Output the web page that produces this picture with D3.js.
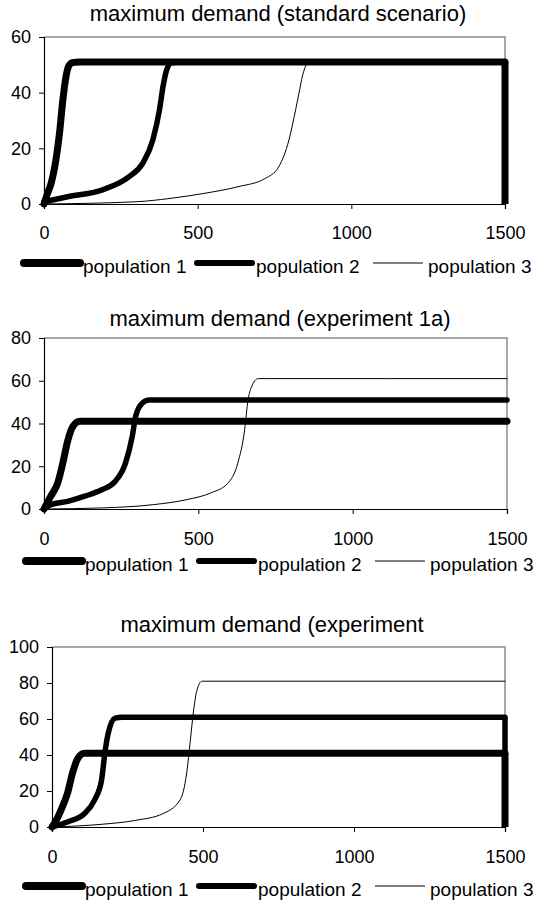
<!DOCTYPE html>
<html>
<head>
<meta charset="utf-8">
<script src="https://cdn.jsdelivr.net/npm/d3@7"></script>
<style>
body { margin: 0; background: #fff; }
svg text { font-family: "Liberation Sans", Arial, sans-serif; fill: #000; }
</style>
</head>
<body>
<svg id="chart" width="534" height="903"></svg>
<script>
// tick labels
var xTicks = [0, 500, 1000, 1500];
var yTicksStd = [0, 20, 40, 60];
var yTicks1a = [0, 20, 40, 60, 80];
var yTicks1b = [0, 20, 40, 60, 80, 100];

var seriesNames = ["population 1", "population 2", "population 3"];
var titles = ["maximum demand (standard scenario)", "maximum demand (experiment 1a)", "maximum demand (experiment"];

// standard scenario, [time, demand]
var stdPop1 = [[0, 0], [12, 4], [22, 7], [39, 16], [50, 25], [61, 37], [72, 46], [80, 49.5], [92, 50.8], [115, 51], [1500, 51]];
var stdPop2 = [[0, 0.8], [77, 2.6], [188, 5], [277, 9.8], [321, 14.6], [354, 23], [376, 34], [387, 42], [400, 48.5], [415, 50.7], [440, 51], [1500, 51]];
var stdPop3 = [[0, 0], [299, 0.8], [410, 2], [520, 3.8], [631, 6.2], [720, 9.2], [764, 13.4], [797, 23], [819, 34], [830, 40], [841, 46], [858, 50.5], [880, 51], [1500, 51]];

// experiment 1a
var exaPop1 = [[0, 0], [22, 6], [44, 12], [61, 21.5], [77, 32], [94, 38.7], [116, 41], [140, 41], [1500, 41]];
var exaPop2 = [[0, 0], [22, 2], [77, 3.6], [132, 6], [187, 9], [231, 13], [264, 21.5], [286, 34], [297, 43.4], [319, 49.6], [341, 51], [1500, 51]];
var exaPop3 = [[0, 0], [187, 0.5], [352, 2], [463, 4.4], [540, 7.5], [595, 12], [628, 21.5], [650, 37], [661, 51], [672, 57], [694, 61], [720, 61], [1500, 61]];

// experiment 1b
var exbPop1 = [[0, 0], [17, 4.7], [34, 11], [51, 18.6], [68, 30], [85, 38], [107, 41], [130, 41], [1500, 41]];
var exbPop2 = [[0, 0], [51, 2.8], [107, 7.4], [141, 15], [164, 26], [175, 41], [186, 52], [209, 60.5], [232, 61], [260, 61], [1500, 61]];
var exbPop3 = [[0, 0], [164, 1.5], [277, 3.7], [367, 7.4], [424, 15], [446, 30], [458, 48], [469, 65], [480, 76], [497, 81], [520, 81], [1500, 81]];

var widths = [7, 5.5, 1];
var legendWidths = [8, 6, 1];

var charts = [
    { title: titles[0], yMax: 60, yTicks: yTicksStd, series: [stdPop1, stdPop2, stdPop3], drop: [true, true, false],
      left: 44, right: 505, top: 37, bottom: 204, titleX: 278, titleY: 21, tickY: 239, legendY: 263, legendDx: 0 },
    { title: titles[1], yMax: 80, yTicks: yTicks1a, series: [exaPop1, exaPop2, exaPop3], drop: [false, false, false],
      left: 44, right: 507, top: 338, bottom: 509, titleX: 280, titleY: 326, tickY: 545, legendY: 561, legendDx: 2 },
    { title: titles[2], yMax: 100, yTicks: yTicks1b, series: [exbPop1, exbPop2, exbPop3], drop: [true, true, false],
      left: 52, right: 505, top: 647, bottom: 827, titleX: 272, titleY: 632, tickY: 863, legendY: 886, legendDx: 2 }
];

var svg = d3.select("#chart");

charts.forEach(function (c) {
    var x = d3.scaleLinear().domain([0, 1500]).range([c.left, c.right]);
    var y = d3.scaleLinear().domain([0, c.yMax]).range([c.bottom, c.top]);
    var g = svg.append("g");

    g.append("text")
        .attr("x", c.titleX)
        .attr("y", c.titleY)
        .attr("text-anchor", "middle")
        .style("font-size", "22px")
        .text(c.title);

    // grey frame top / right
    g.append("path")
        .attr("d", "M" + c.left + "," + c.top + "H" + c.right + "V" + c.bottom)
        .attr("fill", "none")
        .attr("stroke", "#8c8c8c")
        .attr("stroke-width", 1.5);

    var yAxis = g.append("g")
        .attr("transform", "translate(" + c.left + ",0)")
        .call(d3.axisLeft(y).tickValues(c.yTicks).tickSize(5).tickPadding(8).tickFormat(d3.format("d")));
    var xAxis = g.append("g")
        .attr("transform", "translate(0," + c.bottom + ")")
        .call(d3.axisBottom(x).tickValues(xTicks).tickSize(5).tickPadding(14).tickFormat(d3.format("d")));

    [yAxis, xAxis].forEach(function (a) {
        a.select(".domain").attr("stroke", "#000").attr("stroke-width", 1.2);
        a.selectAll("line").attr("stroke", "#000");
        a.selectAll("text")
            .attr("fill", "#000")
            .style("font-size", "18px")
            .style("font-family", "'Liberation Sans', Arial, sans-serif");
    });
    xAxis.selectAll("text").attr("y", c.tickY - c.bottom).attr("dy", null);

    var line = d3.line()
        .x(function (d) { return x(d[0]); })
        .y(function (d) { return y(d[1]); })
        .curve(d3.curveMonotoneX);

    c.series.forEach(function (s, i) {
        g.append("path")
            .attr("d", line(s))
            .attr("fill", "none")
            .attr("stroke", "#000")
            .attr("stroke-width", widths[i])
            .attr("stroke-linejoin", "round")
            .attr("stroke-linecap", "round");
        if (c.drop[i]) {
            var last = s[s.length - 1];
            g.append("path")
                .attr("d", d3.line().x(function (d) { return x(d[0]); }).y(function (d) { return y(d[1]); })([last, [last[0], 0]]))
                .attr("fill", "none")
                .attr("stroke", "#000")
                .attr("stroke-width", widths[i]);
        }
    });

    // legend
    var legendX = [[24, 80, 83], [197, 252, 256], [373, 423, 428]];
    seriesNames.forEach(function (name, i) {
        var lx = legendX[i];
        g.append("line")
            .attr("x1", lx[0] + c.legendDx).attr("x2", lx[1] + c.legendDx)
            .attr("y1", c.legendY).attr("y2", c.legendY)
            .attr("stroke", "#000")
            .attr("stroke-width", legendWidths[i])
            .attr("stroke-linecap", i < 2 ? "round" : "butt");
        g.append("text")
            .attr("x", lx[2] + c.legendDx)
            .attr("y", c.legendY + 10)
            .style("font-size", "19px")
            .text(name);
    });
});
</script>
</body>
</html>
